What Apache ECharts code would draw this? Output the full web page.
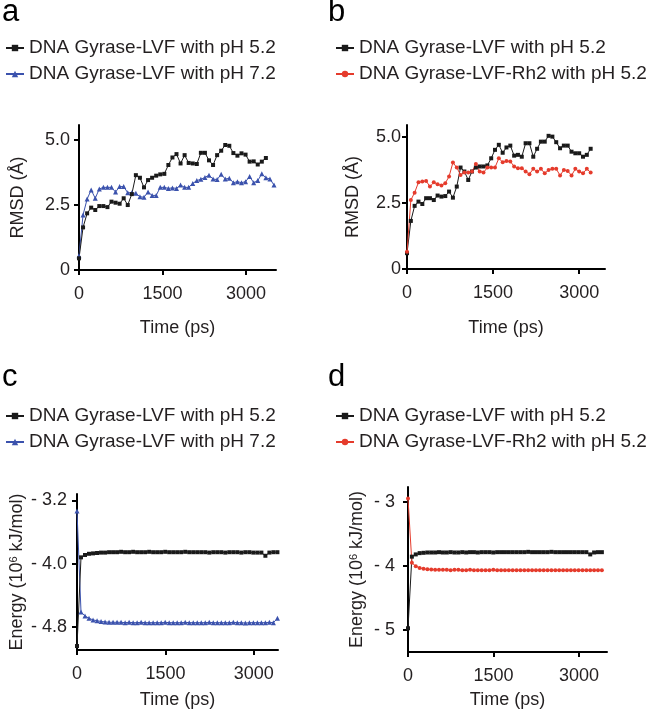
<!DOCTYPE html>
<html>
<head>
<meta charset="utf-8">
<script src="https://cdn.jsdelivr.net/npm/echarts@6/dist/echarts.min.js"></script>
<style>
html,body{margin:0;padding:0;background:#fff;}
#chart{width:647px;height:713px;}
</style>
</head>
<body>
<div id="chart"></div>
<script>
// ---------------- DATA ----------------
const nameLVF52 = 'DNA Gyrase-LVF with pH 5.2';
const nameLVF72 = 'DNA Gyrase-LVF with pH 7.2';
const nameRh252 = 'DNA Gyrase-LVF-Rh2 with pH 5.2';

const timesA = [0,73,146,219,292,365,438,511,584,657,730,803,876,949,1022,1095,1168,1241,1314,1387,1460,1533,1606,1679,1752,1825,1898,1971,2044,2117,2190,2263,2336,2409,2482,2555,2628,2701,2774,2847,2920,2993,3066,3139,3212,3285,3358,3431,3504];
const rmsdA_pH52 = [0.45,1.64,2.18,2.40,2.31,2.46,2.46,2.42,2.63,2.59,2.55,2.76,2.50,2.92,3.65,3.55,3.18,3.46,3.55,3.63,3.68,3.70,4.04,4.33,4.46,4.10,4.42,4.12,4.10,4.08,4.51,4.51,4.22,4.04,4.42,4.59,4.81,4.78,4.50,4.40,4.49,4.44,4.17,4.18,4.06,4.17,4.31];
const rmsdA_pH72 = [0.55,2.12,2.73,3.08,2.76,3.12,3.18,3.18,3.18,3.00,3.21,3.21,2.97,2.97,2.95,2.82,2.80,3.00,2.87,2.87,3.18,3.18,3.14,3.16,3.14,3.27,3.18,3.18,3.33,3.44,3.49,3.56,3.65,3.50,3.48,3.68,3.50,3.53,3.36,3.40,3.36,3.40,3.60,3.36,3.44,3.70,3.55,3.50,3.27];

const timesB = [0,67,133,200,267,333,400,467,533,600,667,733,800,867,933,1000,1067,1133,1200,1267,1333,1400,1467,1533,1600,1667,1733,1800,1867,1933,2000,2067,2133,2200,2267,2333,2400,2467,2533,2600,2667,2733,2800,2867,2933,3000,3067,3133,3200];
const rmsdB_LVF = [0.60,1.82,2.39,2.55,2.46,2.68,2.68,2.61,2.78,2.74,2.76,2.93,2.70,3.12,3.84,3.69,3.37,3.69,3.84,3.88,3.88,3.92,4.19,4.51,4.70,4.40,4.60,4.67,4.29,4.32,4.25,4.76,4.76,4.25,4.55,4.82,4.82,5.04,5.01,4.80,4.57,4.67,4.67,4.44,4.38,4.38,4.25,4.32,4.55];
const rmsdB_Rh2 = [0.65,2.61,2.89,3.28,3.31,3.33,3.12,3.28,3.21,3.16,3.25,3.50,4.03,3.84,3.56,3.65,3.65,3.69,3.97,3.69,3.65,3.84,3.84,3.84,4.19,4.04,4.09,4.07,3.88,3.81,3.81,3.69,3.59,3.79,3.69,3.79,3.62,3.75,3.79,3.79,3.54,3.75,3.71,3.54,3.79,3.69,3.62,3.79,3.65];

const timesCD = [0,68,136,204,272,340,408,476,544,612,680,748,816,884,952,1020,1088,1156,1224,1292,1360,1428,1496,1564,1632,1700,1768,1836,1904,1972,2040,2108,2176,2244,2312,2380,2448,2516,2584,2652,2720,2788,2856,2924,2992,3060,3128,3196,3264,3332,3400];
const energyC_pH52 = [-5.04,-3.92,-3.89,-3.875,-3.87,-3.865,-3.86,-3.86,-3.855,-3.855,-3.855,-3.85,-3.855,-3.855,-3.85,-3.855,-3.855,-3.855,-3.85,-3.855,-3.855,-3.855,-3.85,-3.855,-3.855,-3.855,-3.855,-3.85,-3.855,-3.855,-3.855,-3.855,-3.855,-3.86,-3.855,-3.855,-3.855,-3.86,-3.855,-3.855,-3.855,-3.86,-3.855,-3.855,-3.86,-3.86,-3.86,-3.90,-3.86,-3.855,-3.855];
const energyC_pH72 = [-3.335,-4.61,-4.66,-4.69,-4.71,-4.72,-4.73,-4.735,-4.74,-4.74,-4.74,-4.74,-4.745,-4.74,-4.745,-4.745,-4.74,-4.745,-4.745,-4.745,-4.745,-4.745,-4.74,-4.745,-4.745,-4.745,-4.745,-4.74,-4.745,-4.745,-4.745,-4.745,-4.745,-4.74,-4.745,-4.745,-4.745,-4.745,-4.745,-4.74,-4.745,-4.745,-4.75,-4.745,-4.745,-4.745,-4.745,-4.745,-4.74,-4.745,-4.69];
const energyD_LVF = [-4.97,-3.855,-3.82,-3.80,-3.795,-3.79,-3.79,-3.79,-3.785,-3.79,-3.79,-3.785,-3.79,-3.79,-3.785,-3.79,-3.785,-3.785,-3.79,-3.785,-3.785,-3.785,-3.79,-3.785,-3.785,-3.785,-3.785,-3.785,-3.785,-3.785,-3.785,-3.78,-3.785,-3.785,-3.785,-3.785,-3.785,-3.78,-3.785,-3.785,-3.785,-3.785,-3.785,-3.785,-3.785,-3.785,-3.785,-3.82,-3.79,-3.785,-3.785];
const energyD_Rh2 = [-2.95,-3.95,-4.005,-4.03,-4.045,-4.05,-4.055,-4.06,-4.06,-4.06,-4.06,-4.065,-4.06,-4.06,-4.065,-4.065,-4.06,-4.065,-4.065,-4.065,-4.065,-4.065,-4.06,-4.065,-4.065,-4.065,-4.065,-4.065,-4.065,-4.065,-4.065,-4.065,-4.065,-4.065,-4.065,-4.065,-4.065,-4.065,-4.065,-4.065,-4.065,-4.065,-4.065,-4.065,-4.065,-4.065,-4.065,-4.065,-4.065,-4.065,-4.065];

const xTickLabels = ['0','1500','3000'];
const rmsdTickValues = [0, 2.5, 5.0];
const energyCTicks = [-4.8, -4.0, -3.2];
const energyDTicks = [-5, -4, -3];

// ---------------- STYLE ----------------
const FONT = 'Liberation Sans, Arial, sans-serif';
const BLACK = '#1a1a1a';
const BLUE = '#3b52ad';
const RED = '#e53b2c';
const TXT = '#231f20';

function pairs(ts, vs){ return vs.map((v,i)=>[ts[i], v]); }

function xAxis(gi, max, margin, gap){
  return {
    type:'value', gridIndex:gi, min:0, max:max, interval:1500,
    name:'Time (ps)', nameLocation:'middle', nameGap:gap,
    nameTextStyle:{fontFamily:FONT, fontSize:18, color:TXT, verticalAlign:'top'},
    axisLine:{onZero:false, lineStyle:{color:'#000', width:2}},
    axisTick:{length:5, lineStyle:{color:'#000', width:2}},
    axisLabel:{fontFamily:FONT, fontSize:18, color:TXT, margin:margin,
      formatter:v=> xTickLabels[Math.round(v/1500)] || String(v)},
    splitLine:{show:false}
  };
}
function yAxisBase(gi){
  return {
    type:'value', gridIndex:gi, nameLocation:'middle', nameRotate:90,
    axisLine:{show:true, onZero:false, lineStyle:{color:'#000', width:2}},
    axisTick:{show:true, length:5, lineStyle:{color:'#000', width:2}},
    splitLine:{show:false}
  };
}

const yA = Object.assign(yAxisBase(0), {
  min:0, max:5.58, interval:2.5, name:'RMSD (Å)', nameGap:52,
  nameTextStyle:{fontFamily:FONT, fontSize:18, color:TXT},
  axisLabel:{fontFamily:FONT, fontSize:18, color:TXT, margin:9,
    formatter:v=> v===0 ? '0' : v.toFixed(1)}
});
const yB = Object.assign(yAxisBase(1), {
  min:0, max:5.45, interval:2.5, name:'RMSD (Å)', nameGap:45,
  nameTextStyle:{fontFamily:FONT, fontSize:18, color:TXT},
  axisLabel:{fontFamily:FONT, fontSize:18, color:TXT, margin:6,
    formatter:v=> v===0 ? '0' : v.toFixed(1)}
});
const energyName = 'Energy (10{sup|6} kJ/mol)';
const energyRich = {sup:{fontFamily:FONT, fontSize:11, color:TXT, verticalAlign:'top', padding:[0,0,8,0]}};
const yC = Object.assign(yAxisBase(2), {
  min:-5.09, max:-3.12, name:energyName, nameGap:50,
  nameTextStyle:{fontFamily:FONT, fontSize:18, color:TXT, rich:energyRich},
  axisTick:{show:true, length:5, lineStyle:{color:'#000', width:2}, customValues:energyCTicks},
  axisLabel:{fontFamily:FONT, fontSize:18, color:TXT, margin:10, customValues:energyCTicks,
    formatter:v=> '- ' + Math.abs(v).toFixed(1)}
});
const yD = Object.assign(yAxisBase(3), {
  min:-5.34, max:-2.77, name:energyName, nameGap:41,
  nameTextStyle:{fontFamily:FONT, fontSize:18, color:TXT, rich:energyRich},
  axisTick:{show:true, length:5, lineStyle:{color:'#000', width:2}, customValues:energyDTicks},
  axisLabel:{fontFamily:FONT, fontSize:18, color:TXT, margin:13, customValues:energyDTicks,
    formatter:v=> '- ' + Math.abs(v).toFixed(0)}
});

function series(name, gi, data, color, symbol, size){
  return {
    name:name, type:'line', xAxisIndex:gi, yAxisIndex:gi, data:data,
    symbol:symbol, symbolSize:size, showAllSymbol:true,
    lineStyle:{color:color, width:1}, itemStyle:{color:color},
    animation:false
  };
}

function legend(left, top, names){
  return {
    orient:'vertical', left:left, top:top, padding:0, itemWidth:18, itemHeight:8, itemGap:6,
    data:names, selectedMode:false,
    textStyle:{fontFamily:FONT, fontSize:19, color:TXT, lineHeight:20}
  };
}

const option = {
  backgroundColor:'#fff',
  animation:false,
  grid:[
    {left:79, top:125, width:197, height:145},
    {left:407, top:125, width:198, height:144},
    {left:77, top:494, width:201, height:156},
    {left:408, top:487, width:199, height:165}
  ],
  xAxis:[ xAxis(0,3540,15,49), xAxis(1,3450,15,50), xAxis(2,3410,15,41), xAxis(3,3490,15,39) ],
  yAxis:[ yA, yB, yC, yD ],
  legend:[
    legend(5, 38, [nameLVF52, nameLVF72]),
    legend(335, 38, [nameLVF52, nameRh252]),
    legend(5, 406, [nameLVF52, nameLVF72]),
    legend(335, 406, [nameLVF52, nameRh252])
  ],
  graphic:[
    {type:'text', left:2, top:-3, style:{text:'a', font:'31px '+FONT, fill:'#000'}},
    {type:'text', left:328, top:-3, style:{text:'b', font:'31px '+FONT, fill:'#000'}},
    {type:'text', left:2, top:362, style:{text:'c', font:'31px '+FONT, fill:'#000'}},
    {type:'text', left:328, top:362, style:{text:'d', font:'31px '+FONT, fill:'#000'}}
  ],
  series:[
    series(nameLVF72, 0, pairs(timesA, rmsdA_pH72), BLUE, 'triangle', 5),
    series(nameLVF52, 0, pairs(timesA, rmsdA_pH52), BLACK, 'rect', 4),
    series(nameLVF52, 1, pairs(timesB, rmsdB_LVF), BLACK, 'rect', 4),
    series(nameRh252, 1, pairs(timesB, rmsdB_Rh2), RED, 'circle', 4),
    series(nameLVF72, 2, pairs(timesCD, energyC_pH72), BLUE, 'triangle', 5),
    series(nameLVF52, 2, pairs(timesCD, energyC_pH52), BLACK, 'rect', 4),
    series(nameLVF52, 3, pairs(timesCD, energyD_LVF), BLACK, 'rect', 4),
    series(nameRh252, 3, pairs(timesCD, energyD_Rh2), RED, 'circle', 4)
  ]
};

const chart = echarts.init(document.getElementById('chart'), null, {renderer:'canvas'});
chart.setOption(option);
</script>
</body>
</html>
